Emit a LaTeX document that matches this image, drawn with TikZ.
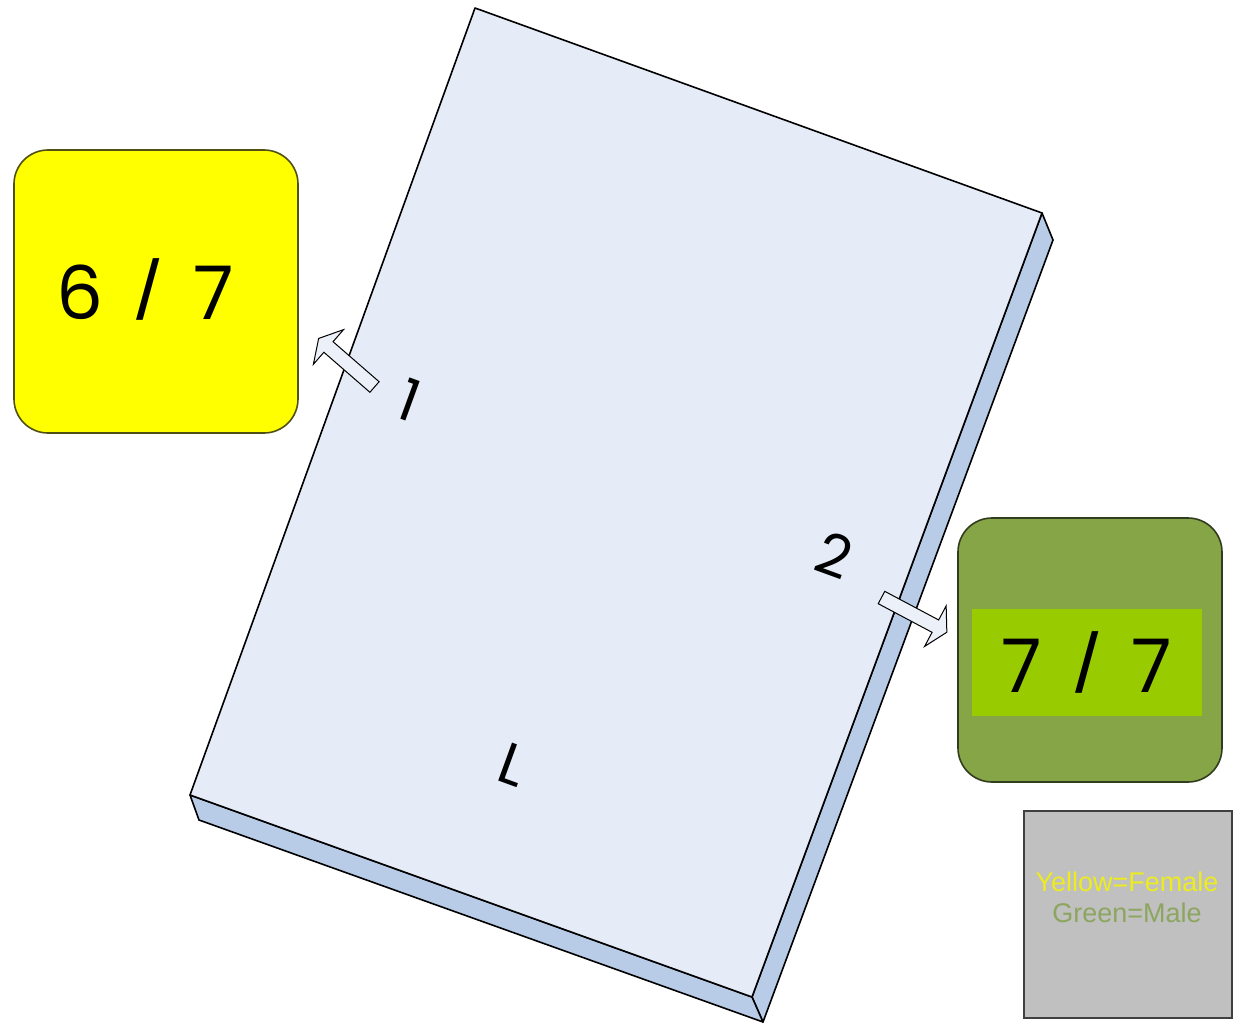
\documentclass[tikz,border=0pt]{standalone}
\usepackage{fontspec}
\setmainfont{Liberation Sans}
\newfontfamily\numfont{Poppins}
\newfontfamily\slashfont{Liberation Sans}
\newcommand{\thinslash}{\hspace{0.45em}{\slashfont\fontsize{84}{86}\selectfont /}\hspace{0.45em}}
\definecolor{topface}{RGB}{230,236,247}
\definecolor{sideface}{RGB}{184,204,232}
\definecolor{yellowbox}{RGB}{255,255,0}
\definecolor{yellowedge}{RGB}{80,80,20}
\definecolor{olivebox}{RGB}{134,165,70}
\definecolor{oliveedge}{RGB}{50,60,30}
\definecolor{limebox}{RGB}{153,204,0}
\definecolor{legendgray}{RGB}{192,192,192}
\definecolor{legendedge}{RGB}{64,64,64}
\definecolor{legendyellow}{RGB}{236,236,30}
\definecolor{legendgreen}{RGB}{140,165,95}
\definecolor{arrowfill}{RGB}{236,240,248}
\begin{document}
\begin{tikzpicture}[x=1pt,y=-1pt,
  slabline/.style={draw=black,line width=1.6pt,line join=round},
  countbox/.style={rounded corners=34pt,line width=1.6pt},
  bignum/.style={font=\numfont\fontsize{74}{80}\selectfont,text=black},
  facelabel/.style={font=\numfont\fontsize{58}{62}\selectfont,rotate=-20,text=black},
  blockarrowstyle/.style={draw=black,fill=arrowfill,line width=1pt,line join=miter},
  blockarrow/.pic={\path[blockarrowstyle] (0,-7) -- (61,-7) -- (61,-23) -- (74,0) -- (61,23) -- (61,7) -- (0,7) -- cycle;}
]
\useasboundingbox (0,0) rectangle (1235,1025);
\fill[white] (0,0) rectangle (1235,1025);

% slab corners
\coordinate (T) at (475,8);
\coordinate (R) at (1042,213);
\coordinate (B) at (752,997);
\coordinate (Lc) at (190,795);
\coordinate (R2) at (1053,240);
\coordinate (B2) at (763,1022);
\coordinate (L2) at (199,820);

% side faces
\path[slabline,fill=sideface] (R) -- (R2) -- (B2) -- (B) -- cycle;
\path[slabline,fill=sideface] (Lc) -- (L2) -- (B2) -- (B) -- cycle;
% top face
\path[slabline,fill=topface] (T) -- (R) -- (B) -- (Lc) -- cycle;

% yellow box
\draw[countbox,fill=yellowbox,draw=yellowedge] (14,150) rectangle (298,433);
\node[bignum] (yel) at (145,289) {6\thinslash 7};

% green box
\draw[countbox,fill=olivebox,draw=oliveedge] (958,518) rectangle (1222,782);
\fill[limebox] (972,609) rectangle (1202,716);
\node[bignum] (grn) at (1087,662) {7\thinslash 7};

% legend
\draw[fill=legendgray,draw=legendedge,line width=2pt] (1024,811) rectangle (1232,1018);
\node[font=\fontsize{27}{30}\selectfont,text=legendyellow] (ly) at (1127,882) {Yellow=Female};
\node[font=\fontsize{27}{30}\selectfont,text=legendgreen] (lg) at (1127,913) {Green=Male};

% face labels
\node[facelabel] (one) at (409,400) {1};
\node[facelabel] (two) at (834,555) {2};
\node[facelabel] (ell) at (513,765) {L};

% block arrows
\pic[rotate=139] at (374.5,387) {blockarrow};
\pic[rotate=-28] at (881.5,597.5) {blockarrow};
\end{tikzpicture}
\end{document}
